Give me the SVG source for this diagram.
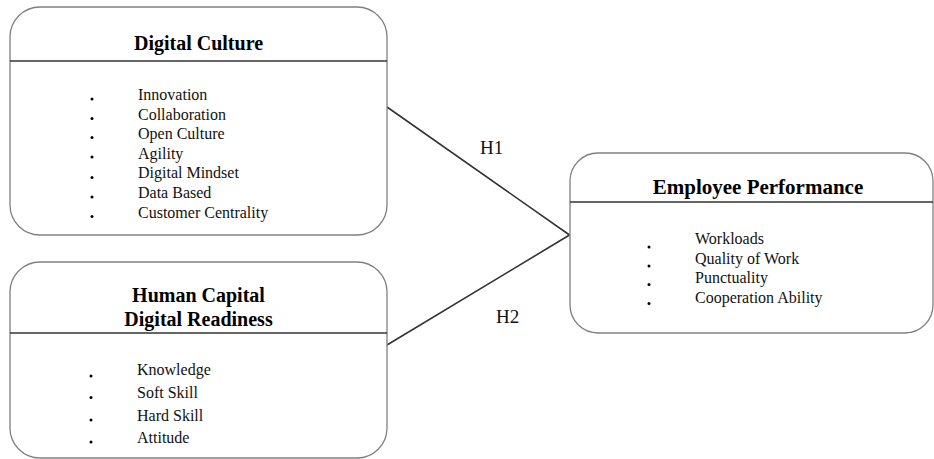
<svg xmlns="http://www.w3.org/2000/svg" width="934" height="459" viewBox="0 0 934 459">
<style>
.box{fill:#fff;stroke:#808080;stroke-width:1.3}
.hdr{stroke:#333;stroke-width:1.6}
.title{font-family:"Liberation Serif","Times New Roman",serif;font-weight:bold;font-size:20px;fill:#000;text-anchor:middle}
.item{font-family:"Liberation Serif","Times New Roman",serif;font-size:16px;fill:#111}
.lbl{font-family:"Liberation Serif","Times New Roman",serif;font-size:19px;fill:#111}
.dot{fill:#000}
.conn{stroke:#333;stroke-width:1.6;fill:none}
</style>
<rect width="934" height="459" fill="#fff"/>
<g id="connectors">
<line class="conn" x1="387" y1="107" x2="569.5" y2="235"/>
<line class="conn" x1="387" y1="345" x2="569.5" y2="235"/>
<text class="lbl" x="480" y="154">H1</text>
<text class="lbl" x="496" y="323">H2</text>
</g>
<g id="digital-culture">
<rect class="box" x="10" y="7" width="377" height="228" rx="30" ry="30"/>
<line class="hdr" x1="10" y1="61" x2="387" y2="61"/>
<text class="title" x="198.5" y="50">Digital Culture</text>
<circle class="dot" cx="92" cy="99" r="1.5"/>
<circle class="dot" cx="92" cy="118.5" r="1.5"/>
<circle class="dot" cx="92" cy="137.5" r="1.5"/>
<circle class="dot" cx="92" cy="157" r="1.5"/>
<circle class="dot" cx="92" cy="177.5" r="1.5"/>
<circle class="dot" cx="92" cy="197" r="1.5"/>
<circle class="dot" cx="92" cy="216.5" r="1.5"/>
<text class="item" x="138" y="100">Innovation</text>
<text class="item" x="138" y="119.6">Collaboration</text>
<text class="item" x="138" y="139.2">Open Culture</text>
<text class="item" x="138" y="158.8">Agility</text>
<text class="item" x="138" y="178.4">Digital Mindset</text>
<text class="item" x="138" y="198">Data Based</text>
<text class="item" x="138" y="217.6">Customer Centrality</text>
</g>
<g id="human-capital">
<rect class="box" x="10" y="262" width="377" height="196" rx="30" ry="30"/>
<line class="hdr" x1="10" y1="333" x2="387" y2="333"/>
<text class="title" x="198.5" y="302">Human Capital</text>
<text class="title" x="198.5" y="326">Digital Readiness</text>
<circle class="dot" cx="91" cy="376" r="1.5"/>
<circle class="dot" cx="91" cy="397.5" r="1.5"/>
<circle class="dot" cx="91" cy="420" r="1.5"/>
<circle class="dot" cx="91" cy="442" r="1.5"/>
<text class="item" x="137" y="375">Knowledge</text>
<text class="item" x="137" y="398">Soft Skill</text>
<text class="item" x="137" y="420.5">Hard Skill</text>
<text class="item" x="137" y="443">Attitude</text>
</g>
<g id="employee-performance">
<rect class="box" x="570" y="153" width="363" height="180" rx="28" ry="28"/>
<line class="hdr" x1="570" y1="202" x2="933" y2="202"/>
<text class="title" x="758" y="194" style="font-size:21px">Employee Performance</text>
<circle class="dot" cx="649" cy="247" r="1.5"/>
<circle class="dot" cx="649" cy="266" r="1.5"/>
<circle class="dot" cx="649" cy="284.5" r="1.5"/>
<circle class="dot" cx="649" cy="303.5" r="1.5"/>
<text class="item" x="695" y="243.5">Workloads</text>
<text class="item" x="695" y="264">Quality of Work</text>
<text class="item" x="695" y="283">Punctuality</text>
<text class="item" x="695" y="302.5">Cooperation Ability</text>
</g>
</svg>
